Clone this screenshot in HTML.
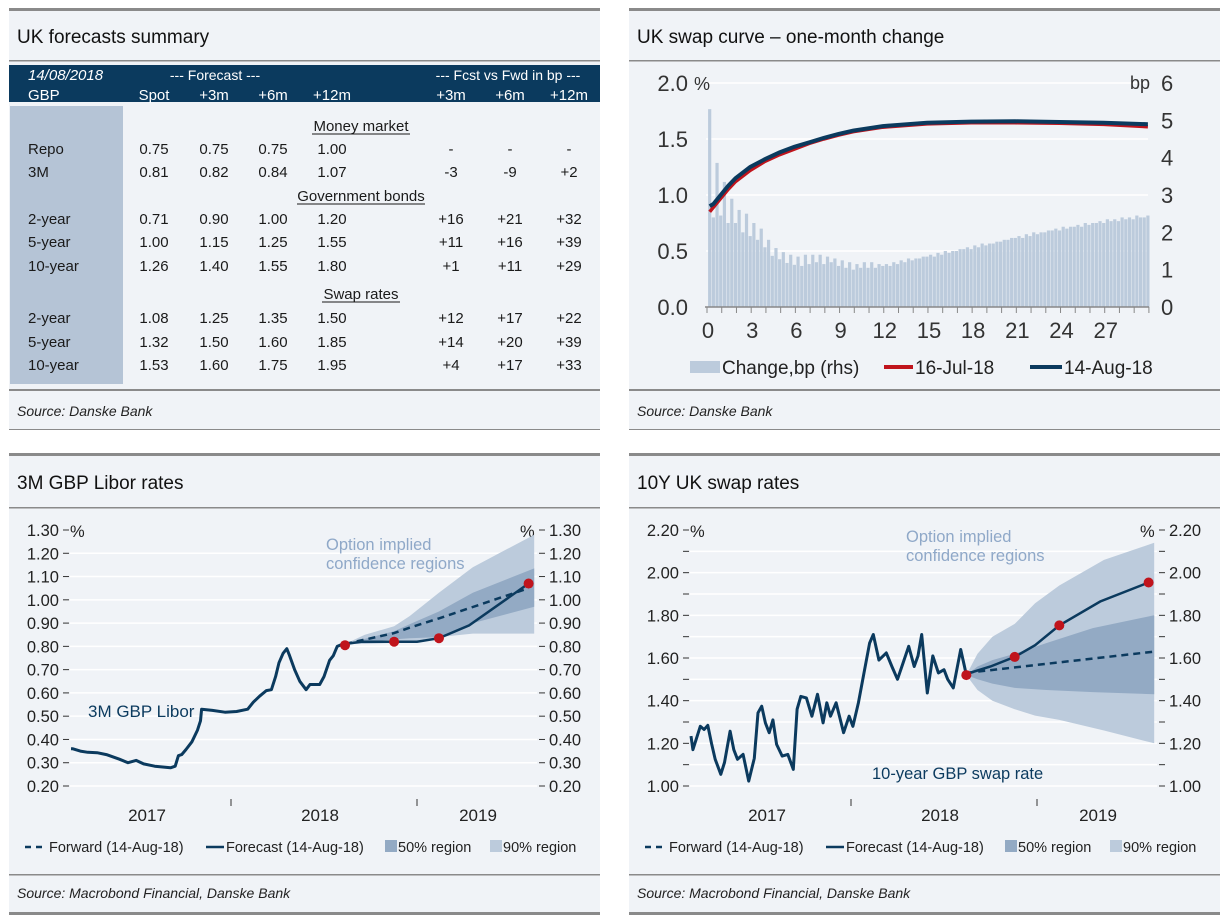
<!DOCTYPE html>
<html><head><meta charset="utf-8">
<style>
html,body{margin:0;padding:0;background:#fff;}
svg{display:block;font-family:"Liberation Sans",sans-serif;}
</style></head>
<body>
<svg id="page" width="1222" height="921" viewBox="0 0 1222 921">
<g>
<rect x="9" y="8" width="591" height="422" fill="#f0f3f7"/>
<rect x="629" y="8" width="591" height="422" fill="#f0f3f7"/>
<rect x="9" y="453" width="591" height="461" fill="#f0f3f7"/>
<rect x="629" y="453" width="591" height="461" fill="#f0f3f7"/>
<rect x="9" y="8" width="591" height="3" fill="#8a8a8a"/>
<rect x="629" y="8" width="591" height="3" fill="#8a8a8a"/>
<rect x="9" y="453" width="591" height="3" fill="#8a8a8a"/>
<rect x="629" y="453" width="591" height="3" fill="#8a8a8a"/>
<rect x="9" y="60" width="591" height="1.5" fill="#8a8a8a"/>
<rect x="629" y="60" width="591" height="1.5" fill="#8a8a8a"/>
<rect x="9" y="507" width="591" height="1.5" fill="#8a8a8a"/>
<rect x="629" y="507" width="591" height="1.5" fill="#8a8a8a"/>
<rect x="9" y="389" width="591" height="2" fill="#8a8a8a"/>
<rect x="629" y="389" width="591" height="2" fill="#8a8a8a"/>
<rect x="9" y="429" width="591" height="1" fill="#8a8a8a"/>
<rect x="629" y="429" width="591" height="1" fill="#8a8a8a"/>
<rect x="9" y="874" width="591" height="1.5" fill="#8a8a8a"/>
<rect x="629" y="874" width="591" height="1.5" fill="#8a8a8a"/>
<rect x="9" y="912" width="591" height="3" fill="#8a8a8a"/>
<rect x="629" y="912" width="591" height="3" fill="#8a8a8a"/>
</g>
<text x="17" y="43" font-size="19" fill="#111">UK forecasts summary</text>
<text x="637" y="43" font-size="19" fill="#111">UK swap curve – one-month change</text>
<text x="17" y="489" font-size="19" fill="#111">3M GBP Libor rates</text>
<text x="637" y="489" font-size="19" fill="#111">10Y UK swap rates</text>
<text x="17" y="416" font-size="14" font-style="italic" fill="#222">Source: Danske Bank</text>
<text x="637" y="416" font-size="14" font-style="italic" fill="#222">Source: Danske Bank</text>
<text x="17" y="898" font-size="14" font-style="italic" fill="#222">Source: Macrobond Financial, Danske Bank</text>
<text x="637" y="898" font-size="14" font-style="italic" fill="#222">Source: Macrobond Financial, Danske Bank</text>

<g font-size="15" fill="#1a1a1a">
<rect x="9" y="65" width="591" height="37" fill="#0b3a5e"/>
<rect x="10" y="106" width="113" height="278" fill="#b5c4d6"/>
<g fill="#fff" font-size="15">
<text x="28" y="80" font-style="italic">14/08/2018</text>
<text x="215" y="80" text-anchor="middle" font-size="14">--- Forecast ---</text>
<text x="508" y="80" text-anchor="middle" font-size="14">--- Fcst vs Fwd in bp ---</text>
<text x="28" y="100">GBP</text>
<text x="154" y="100" text-anchor="middle">Spot</text>
<text x="214" y="100" text-anchor="middle">+3m</text>
<text x="273" y="100" text-anchor="middle">+6m</text>
<text x="332" y="100" text-anchor="middle">+12m</text>
<text x="451" y="100" text-anchor="middle">+3m</text>
<text x="510" y="100" text-anchor="middle">+6m</text>
<text x="569" y="100" text-anchor="middle">+12m</text>
</g>
<g id="tbody"></g>
</g>

<g id="swapcurve"></g>
<g id="libor"></g>
<g id="swap10"></g>
</svg>
<script>
const NS='http://www.w3.org/2000/svg';
function mk(parent,tag,attrs,text){const e=document.createElementNS(NS,tag);for(const k in attrs)e.setAttribute(k,attrs[k]);if(text!==undefined)e.textContent=text;parent.appendChild(e);return e;}

const tableSections=[{title:'Money market',y:131,w:98},{title:'Government bonds',y:201,w:128},{title:'Swap rates',y:299,w:78}];
const tableRows=[
 ['Repo',154,['0.75','0.75','0.75','1.00','-','-','-']],
 ['3M',177,['0.81','0.82','0.84','1.07','-3','-9','+2']],
 ['2-year',224,['0.71','0.90','1.00','1.20','+16','+21','+32']],
 ['5-year',247,['1.00','1.15','1.25','1.55','+11','+16','+39']],
 ['10-year',271,['1.26','1.40','1.55','1.80','+1','+11','+29']],
 ['2-year',323,['1.08','1.25','1.35','1.50','+12','+17','+22']],
 ['5-year',347,['1.32','1.50','1.60','1.85','+14','+20','+39']],
 ['10-year',370,['1.53','1.60','1.75','1.95','+4','+17','+33']]];
const colX=[154,214,273,332,451,510,569];
const tb=document.getElementById('tbody');
tableSections.forEach(s=>{
 const t=mk(tb,'text',{x:361,y:s.y,'text-anchor':'middle'},s.title);
 
 
 mk(tb,'line',{x1:361-s.w/2,x2:361+s.w/2,y1:s.y+3,y2:s.y+3,stroke:'#1a1a1a','stroke-width':1});
});
tableRows.forEach(r=>{
 const l=mk(tb,'text',{x:28,y:r[1]},r[0]);
 
 
 r[2].forEach((v,i)=>{const c=mk(tb,'text',{x:colX[i],y:r[1],'text-anchor':'middle'},v);
  
  });
});

const barChanges=[5.3,2.4,3.86,2.45,3.35,2.25,2.9,2.25,2.6,2.0,2.5,1.9,2.25,1.8,2.1,1.6,1.8,1.37,1.58,1.28,1.47,1.18,1.4,1.13,1.35,
1.1,1.4,1.15,1.4,1.2,1.4,1.15,1.35,1.2,1.3,1.1,1.25,1.05,1.2,1.0,1.15,1.05,1.2,1.05,1.2,1.05,1.15,1.1,
1.15,1.1,1.2,1.15,1.25,1.2,1.3,1.25,1.3,1.3,1.35,1.35,1.4,1.35,1.45,1.4,1.5,1.45,1.5,1.5,1.55,1.55,1.6,1.55,1.65,1.6,1.7,1.65,1.7,1.7,1.75,1.75,1.8,1.8,1.85,1.85,1.9,1.85,1.95,1.9,2.0,1.95,2.0,2.0,2.05,2.05,2.1,2.05,2.15,2.1,2.15,2.15,2.2,2.15,2.25,2.2,2.25,2.25,2.3,2.25,2.35,2.3,2.35,2.3,2.4,2.35,2.4,2.35,2.45,2.4,2.4,2.45];
const curveMaturities=[0.25,0.5,1,1.5,2,3,4,5,6,7,8,9,10,12,15,18,21,24,27,30];
const curveJul=[0.85,0.89,0.97,1.05,1.12,1.22,1.30,1.36,1.41,1.46,1.50,1.535,1.565,1.605,1.635,1.645,1.645,1.64,1.63,1.61];
const curveAug=[0.90,0.92,1.00,1.08,1.15,1.25,1.32,1.38,1.43,1.47,1.51,1.545,1.575,1.615,1.645,1.655,1.658,1.652,1.645,1.632];
const swapLeftTicks=['0.0','0.5','1.0','1.5','2.0'];
const swapRightTicks=['0','1','2','3','4','5','6'];
const swapXTicks=[0,3,6,9,12,15,18,21,24,27];
(function(){
 const g=document.getElementById('swapcurve');
 const X=m=>706+m*14.73, YL=v=>307-v*112, YR=v=>307-v*37.33;
 swapLeftTicks.forEach(t=>{const v=parseFloat(t);
  if(v>0) mk(g,'line',{x1:706,x2:1148,y1:YL(v),y2:YL(v),stroke:'#fff','stroke-width':1.5});
  const e=mk(g,'text',{x:688,y:YL(v)+8,'text-anchor':'end','font-size':22,fill:'#333'},t);
  
  });
 mk(g,'text',{x:694,y:90,'font-size':18,fill:'#333'},'%');
 swapRightTicks.forEach(t=>{const e=mk(g,'text',{x:1161,y:YR(parseFloat(t))+8,'font-size':22,fill:'#333'},t);
  
  });
 mk(g,'text',{x:1130,y:89,'font-size':18,fill:'#333'},'bp');
 barChanges.forEach((v,i)=>{const m=(i+1)*0.25;
  const b=mk(g,'rect',{x:X(m)-1.6,y:YR(v),width:3.2,height:YR(0)-YR(v),fill:'#bccbdc'});
  
  });
 const path=arr=>curveMaturities.map((m,i)=>(i?'L':'M')+X(m).toFixed(1)+','+YL(arr[i]).toFixed(1)).join(' ');
 const r=mk(g,'path',{d:path(curveJul),fill:'none',stroke:'#c0141c','stroke-width':3.5});
 
 
 const b=mk(g,'path',{d:path(curveAug),fill:'none',stroke:'#0b3a5e','stroke-width':4});
 
 
 mk(g,'line',{x1:705,x2:1149,y1:307,y2:307,stroke:'#888','stroke-width':1.5});
 for(let k=0;k<=30;k++) mk(g,'line',{x1:X(k)+1,x2:X(k)+1,y1:307,y2:313,stroke:'#888','stroke-width':1});
 swapXTicks.forEach(t=>{const e=mk(g,'text',{x:X(t)+2,y:338,'text-anchor':'middle','font-size':22,fill:'#333'},t);
  
  });
 const lg=mk(g,'g',{'font-size':19,fill:'#222'});
 
 
 mk(lg,'rect',{x:690,y:361,width:30,height:12,fill:'#bccbdc'});
 mk(lg,'text',{x:722,y:374},'Change,bp (rhs)');
 mk(lg,'line',{x1:884,x2:913,y1:367,y2:367,stroke:'#c0141c','stroke-width':4});
 mk(lg,'text',{x:915,y:374},'16-Jul-18');
 mk(lg,'line',{x1:1030,x2:1062,y1:367,y2:367,stroke:'#0b3a5e','stroke-width':4});
 mk(lg,'text',{x:1064,y:374},'14-Aug-18');
})();

const liborDates=[2017.14,2017.15,2017.19,2017.23,2017.28,2017.33,2017.40,2017.446,2017.49,2017.53,2017.59,2017.675,2017.70,2017.717,2017.735,2017.758,2017.79,2017.82,2017.836,2017.842,2017.90,2017.967,2018.03,2018.09,2018.12,2018.154,2018.19,2018.217,2018.24,2018.258,2018.28,2018.30,2018.315,2018.342,2018.37,2018.404,2018.425,2018.477,2018.50,2018.53,2018.55,2018.571,2018.613];
const liborValues=[0.36,0.36,0.35,0.345,0.343,0.335,0.315,0.30,0.31,0.295,0.285,0.278,0.285,0.33,0.335,0.357,0.39,0.44,0.48,0.53,0.525,0.517,0.52,0.53,0.56,0.586,0.61,0.614,0.67,0.73,0.77,0.79,0.76,0.70,0.65,0.614,0.636,0.636,0.67,0.74,0.76,0.80,0.814];
const liborFcDates=[2018.613,2018.70,2018.877,2019.0,2019.118,2019.28,2019.60];
const liborFcValues=[0.81,0.82,0.82,0.82,0.835,0.89,1.07];
const liborFwdDates=[2018.613,2018.877,2018.96,2019.118,2019.60];
const liborFwdValues=[0.81,0.857,0.88,0.92,1.05];
const liborDotDates=[2018.613,2018.877,2019.118,2019.60];
const liborDotValues=[0.805,0.82,0.835,1.07];
const libor50Dates=[2018.613,2018.877,2018.96,2019.118,2019.30,2019.63];
const libor50Upper=[0.81,0.865,0.895,0.95,1.03,1.135];
const libor50Lower=[0.81,0.83,0.835,0.84,0.90,0.97];
const libor90Dates=[2018.613,2018.72,2018.877,2018.96,2019.118,2019.30,2019.63];
const libor90Upper=[0.81,0.85,0.886,0.93,1.03,1.14,1.28];
const libor90Lower=[0.81,0.81,0.815,0.82,0.84,0.855,0.855];
const liborTicks=['1.30','1.20','1.10','1.00','0.90','0.80','0.70','0.60','0.50','0.40','0.30','0.20'];

const swapDates=[2017.14,2017.15,2017.19,2017.21,2017.23,2017.25,2017.27,2017.30,2017.32,2017.35,2017.37,2017.39,2017.42,2017.45,2017.48,2017.50,2017.52,2017.54,2017.56,2017.58,2017.60,2017.63,2017.66,2017.69,2017.71,2017.73,2017.76,2017.79,2017.82,2017.85,2017.87,2017.89,2017.92,2017.96,2017.99,2018.01,2018.04,2018.07,2018.10,2018.12,2018.15,2018.19,2018.22,2018.25,2018.28,2018.31,2018.34,2018.36,2018.38,2018.41,2018.44,2018.47,2018.50,2018.52,2018.55,2018.59,2018.61,2018.62];
const swapValues=[1.234,1.17,1.28,1.265,1.284,1.20,1.125,1.055,1.11,1.257,1.17,1.125,1.148,1.023,1.13,1.343,1.374,1.296,1.25,1.31,1.195,1.14,1.148,1.078,1.36,1.42,1.413,1.327,1.43,1.296,1.39,1.327,1.39,1.25,1.327,1.28,1.39,1.53,1.67,1.71,1.59,1.624,1.56,1.50,1.577,1.655,1.56,1.61,1.71,1.436,1.61,1.53,1.545,1.50,1.46,1.64,1.56,1.52];
const swapFcDates=[2018.62,2018.75,2018.88,2018.99,2019.12,2019.34,2019.60];
const swapFcValues=[1.525,1.56,1.605,1.66,1.753,1.865,1.954];
const swapFwdDates=[2018.62,2019.63];
const swapFwdValues=[1.53,1.63];
const swapDotDates=[2018.62,2018.88,2019.12,2019.60];
const swapDotValues=[1.52,1.605,1.753,1.954];
const swap50Dates=[2018.62,2018.68,2018.76,2018.88,2019.05,2019.30,2019.63];
const swap50Upper=[1.52,1.56,1.59,1.62,1.67,1.74,1.80];
const swap50Lower=[1.52,1.50,1.48,1.46,1.45,1.44,1.43];
const swap90Dates=[2018.62,2018.68,2018.76,2018.88,2018.99,2019.12,2019.36,2019.63];
const swap90Upper=[1.52,1.62,1.70,1.76,1.857,1.94,2.06,2.14];
const swap90Lower=[1.52,1.45,1.40,1.36,1.33,1.31,1.26,1.20];
const swapTicks=['2.20','2.10','2.00','1.90','1.80','1.70','1.60','1.50','1.40','1.30','1.20','1.10','1.00'];
const yearLabels=['2017','2018','2019'];
const yearLabelNudge=[9,-4,-32];

function timeChart(g,off,ticks,vmin,vmax,series,fc,fw,dots,b50,b90,labelEvery){
 const X=t=>off+231+(t-2018)*186;
 const Y=v=>786-(v-vmin)*(256/(vmax-vmin));
 ticks.forEach((t,i)=>{const v=parseFloat(t),y=Y(v);
  if(i>0) mk(g,'line',{x1:off+70,x2:off+537,y1:y,y2:y,stroke:'#fff','stroke-width':1.5});
  mk(g,'line',{x1:off+63,x2:off+69,y1:y,y2:y,stroke:'#333','stroke-width':1});
  mk(g,'line',{x1:off+539,x2:off+545,y1:y,y2:y,stroke:'#333','stroke-width':1});
  if(i%labelEvery===0){
   const a=mk(g,'text',{x:off+59,y:y+6,'text-anchor':'end','font-size':16.5,fill:'#222'},t);
   
   
   const b=mk(g,'text',{x:off+549,y:y+6,'font-size':16.5,fill:'#222'},t);
   
   }
 });
 mk(g,'text',{x:off+70,y:Y(vmax)+7,'font-size':16.5,fill:'#222'},'%');
 mk(g,'text',{x:off+520,y:Y(vmax)+7,'font-size':16.5,fill:'#222'},'%');
 const poly=(d,u,l)=>{let s=d.map((t,i)=>(i?'L':'M')+X(t).toFixed(1)+','+Y(u[i]).toFixed(1)).join(' ');
  for(let i=d.length-1;i>=0;i--) s+=' L'+X(d[i]).toFixed(1)+','+Y(l[i]).toFixed(1);return s+' Z';};
 const p90=mk(g,'path',{d:poly(b90[0],b90[1],b90[2]),fill:'#bccbdc'});
 
 
 const p50=mk(g,'path',{d:poly(b50[0],b50[1],b50[2]),fill:'#93aac4'});
 
 
 const line=(d,v)=>d.map((t,i)=>(i?'L':'M')+X(t).toFixed(1)+','+Y(v[i]).toFixed(1)).join(' ');
 const h=mk(g,'path',{d:line(series[0],series[1]),fill:'none',stroke:'#0b3a5e','stroke-width':3,'stroke-linejoin':'round'});
 
 
 const f=mk(g,'path',{d:line(fw[0],fw[1]),fill:'none',stroke:'#0b3a5e','stroke-width':2.5,'stroke-dasharray':'7,5'});
 
 
 const c=mk(g,'path',{d:line(fc[0],fc[1]),fill:'none',stroke:'#0b3a5e','stroke-width':2.5});
 
 
 dots[0].forEach((t,i)=>{const d=mk(g,'circle',{cx:X(t),cy:Y(dots[1][i]),r:5,fill:'#c0141c'});
  
  });
 [2018,2019].forEach(yr=>mk(g,'line',{x1:X(yr),x2:X(yr),y1:799,y2:806,stroke:'#333','stroke-width':1}));
 yearLabels.forEach((yl,i)=>{const e=mk(g,'text',{x:X(parseFloat(yl)+0.5)+yearLabelNudge[i],y:821,'text-anchor':'middle','font-size':17,fill:'#222'},yl);
  
  });
 const lg=mk(g,'g',{'font-size':14.5,fill:'#222'});
 
 
 mk(lg,'line',{x1:off+25,x2:off+47,y1:847,y2:847,stroke:'#0b3a5e','stroke-width':2.5,'stroke-dasharray':'6,5'});
 mk(lg,'text',{x:off+49,y:852},'Forward (14-Aug-18)');
 mk(lg,'line',{x1:off+206,x2:off+224,y1:847,y2:847,stroke:'#0b3a5e','stroke-width':2.5});
 mk(lg,'text',{x:off+226,y:852},'Forecast (14-Aug-18)');
 mk(lg,'rect',{x:off+385,y:840,width:12,height:12,fill:'#93aac4'});
 mk(lg,'text',{x:off+398,y:852},'50% region');
 mk(lg,'rect',{x:off+490,y:840,width:12,height:12,fill:'#bccbdc'});
 mk(lg,'text',{x:off+503,y:852},'90% region');
}
(function(){
 const g=document.getElementById('libor');
 timeChart(g,0,liborTicks,0.20,1.30,[liborDates,liborValues],[liborFcDates,liborFcValues],[liborFwdDates,liborFwdValues],[liborDotDates,liborDotValues],[libor50Dates,libor50Upper,libor50Lower],[libor90Dates,libor90Upper,libor90Lower],1);
 const a=mk(g,'text',{x:88,y:717,'font-size':17,fill:'#0b3a5e'},'3M GBP Libor');
 
 
 const b=mk(g,'text',{x:326,y:550,'font-size':16.5,fill:'#8fa8c8'},'Option implied');
 
 
 mk(g,'text',{x:326,y:569,'font-size':16.5,fill:'#8fa8c8'},'confidence regions');
})();
(function(){
 const g=document.getElementById('swap10');
 timeChart(g,620,swapTicks,1.00,2.20,[swapDates,swapValues],[swapFcDates,swapFcValues],[swapFwdDates,swapFwdValues],[swapDotDates,swapDotValues],[swap50Dates,swap50Upper,swap50Lower],[swap90Dates,swap90Upper,swap90Lower],2);
 const a=mk(g,'text',{x:872,y:779,'font-size':16.5,fill:'#0b3a5e'},'10-year GBP swap rate');
 
 
 const b=mk(g,'text',{x:906,y:542,'font-size':16.5,fill:'#8fa8c8'},'Option implied');
 
 
 mk(g,'text',{x:906,y:561,'font-size':16.5,fill:'#8fa8c8'},'confidence regions');
})();
</script>
</body></html>
